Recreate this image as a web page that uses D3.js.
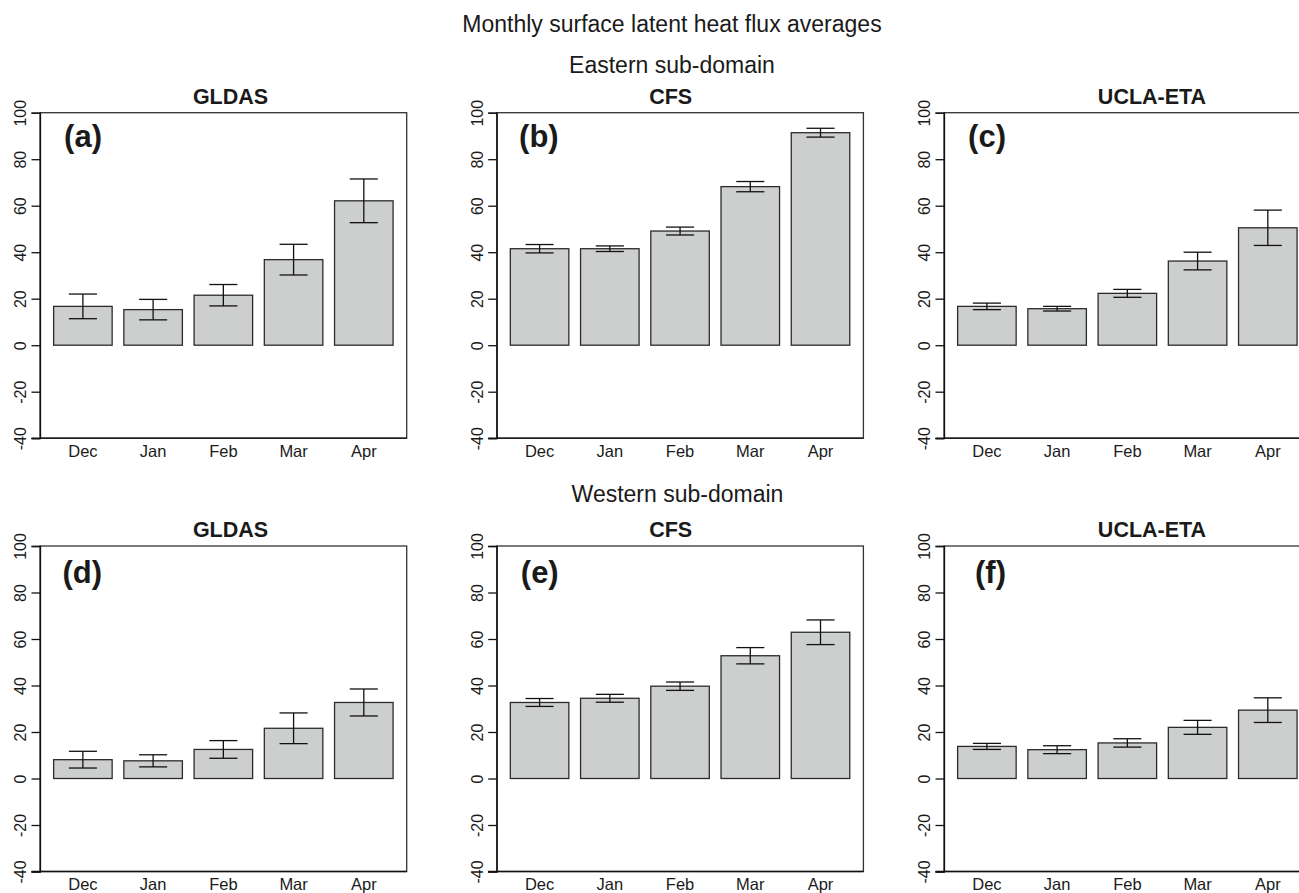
<!DOCTYPE html>
<html lang="en">
<head>
  <meta charset="UTF-8">
  <title>Monthly surface latent heat flux averages</title>
  <script src="https://d3js.org/d3.v7.min.js"></script>
  <style>
    body { margin: 0; background: #fff; }
    text { font-family: "Liberation Sans", Arial, Helvetica, sans-serif; fill: #1a1a1a; }
  </style>
</head>
<body>

<div id="chart"></div>

<script>
  // months on the x axis
  const months = ["Dec", "Jan", "Feb", "Mar", "Apr"];
  const yTicks = [-40, -20, 0, 20, 40, 60, 80, 100];

  // Eastern sub-domain: means and error half-widths
  const eastGldas = [16.7, 15.3, 21.5, 36.8, 62.1];
  const eastGldasErr = [5.3, 4.4, 4.6, 6.6, 9.4];
  const eastCfs = [41.5, 41.5, 49.1, 68.2, 91.4];
  const eastCfsErr = [1.8, 1.2, 1.7, 2.2, 1.9];
  const eastUcla = [16.7, 15.7, 22.3, 36.2, 50.5];
  const eastUclaErr = [1.4, 1.0, 1.7, 3.8, 7.6];

  // Western sub-domain
  const westGldas = [8.1, 7.6, 12.5, 21.6, 32.7];
  const westGldasErr = [3.6, 2.6, 3.8, 6.6, 5.8];
  const westCfs = [32.7, 34.5, 39.7, 52.8, 62.9];
  const westCfsErr = [1.7, 1.7, 1.8, 3.5, 5.3];
  const westUcla = [13.8, 12.4, 15.3, 22.0, 29.4];
  const westUclaErr = [1.3, 1.7, 1.8, 3.0, 5.3];

  const width = 1299;
  const height = 893;
  const plotW = 366.7;
  const plotH = 325.5;

  const panels = [
    { title: "GLDAS",    tag: "(a)", vals: eastGldas, err: eastGldasErr, left: 40,    top: 112.7, titleX: 230.5 },
    { title: "CFS",      tag: "(b)", vals: eastCfs,   err: eastCfsErr,   left: 496.7, top: 112.7, titleX: 670.7 },
    { title: "UCLA-ETA", tag: "(c)", vals: eastUcla,  err: eastUclaErr,  left: 944,   top: 112.7, titleX: 1152 },
    { title: "GLDAS",    tag: "(d)", vals: westGldas, err: westGldasErr, left: 40,    top: 546,   titleX: 230.5, tagDy: 3.4 },
    { title: "CFS",      tag: "(e)", vals: westCfs,   err: westCfsErr,   left: 496.7, top: 546,   titleX: 670.7, tagDy: 3.4 },
    { title: "UCLA-ETA", tag: "(f)", vals: westUcla,  err: westUclaErr,  left: 944,   top: 546,   titleX: 1152,  tagDy: 3.4 }
  ];

  const svg = d3.select("#chart")
    .append("svg")
    .attr("width", width)
    .attr("height", height);

  // headings
  svg.append("text")
    .attr("x", 672).attr("y", 31.5)
    .attr("text-anchor", "middle")
    .attr("font-size", "23px")
    .text("Monthly surface latent heat flux averages");

  svg.append("text")
    .attr("x", 672).attr("y", 72.5)
    .attr("text-anchor", "middle")
    .attr("font-size", "23px")
    .text("Eastern sub-domain");

  svg.append("text")
    .attr("x", 677.5).attr("y", 502.3)
    .attr("text-anchor", "middle")
    .attr("font-size", "23px")
    .text("Western sub-domain");

  const y = d3.scaleLinear().domain([-40, 100]).range([plotH, 0]);

  panels.forEach(p => {
    const g = svg.append("g").attr("transform", `translate(${p.left},${p.top})`);

    const x = d3.scaleBand()
      .domain(months)
      .range([0, plotW])
      .paddingInner(1 / 6)
      .paddingOuter(0.194);

    // box
    g.append("rect")
      .attr("x", 0).attr("y", 0)
      .attr("width", plotW).attr("height", plotH)
      .attr("fill", "none")
      .attr("stroke", "#333")
      .attr("stroke-width", 1.3);

    // bars
    g.selectAll("rect.bar")
      .data(p.vals)
      .enter()
      .append("rect")
      .attr("class", "bar")
      .attr("x", (d, i) => x(months[i]))
      .attr("y", d => y(d))
      .attr("width", x.bandwidth())
      .attr("height", d => y(0) - y(d))
      .attr("fill", "#cdcfce")
      .attr("stroke", "#2b2b2b")
      .attr("stroke-width", 1.3);

    // error bars
    const cap = x.bandwidth() * 0.24;
    const eb = g.selectAll("g.err")
      .data(p.vals)
      .enter()
      .append("g")
      .attr("class", "err")
      .attr("stroke", "#111")
      .attr("stroke-width", 1.3);

    eb.append("line")
      .attr("x1", (d, i) => x(months[i]) + x.bandwidth() / 2)
      .attr("x2", (d, i) => x(months[i]) + x.bandwidth() / 2)
      .attr("y1", (d, i) => y(d + p.err[i]))
      .attr("y2", (d, i) => y(d - p.err[i]));
    eb.append("line")
      .attr("x1", (d, i) => x(months[i]) + x.bandwidth() / 2 - cap)
      .attr("x2", (d, i) => x(months[i]) + x.bandwidth() / 2 + cap)
      .attr("y1", (d, i) => y(d + p.err[i]))
      .attr("y2", (d, i) => y(d + p.err[i]));
    eb.append("line")
      .attr("x1", (d, i) => x(months[i]) + x.bandwidth() / 2 - cap)
      .attr("x2", (d, i) => x(months[i]) + x.bandwidth() / 2 + cap)
      .attr("y1", (d, i) => y(d - p.err[i]))
      .attr("y2", (d, i) => y(d - p.err[i]));

    // y axis, R style with rotated labels
    const yAxis = g.append("g")
      .attr("font-size", 16)
      .call(d3.axisLeft(y).tickValues(yTicks).tickSize(8.5).tickFormat(d => String(d)));
    yAxis.attr("font-size", 16).attr("font-family", null);
    yAxis.select(".domain").attr("stroke", "#111").attr("stroke-width", 1.3);
    yAxis.selectAll(".tick line").attr("stroke", "#111").attr("stroke-width", 1.3);
    yAxis.selectAll(".tick text")
      .attr("x", null).attr("dy", null)
      .attr("transform", "translate(-14,0) rotate(-90)")
      .attr("text-anchor", "middle")
      .attr("fill", "#1a1a1a");

    // x axis, labels only
    const xAxis = g.append("g")
      .attr("transform", `translate(0,${plotH})`)
      .call(d3.axisBottom(x).tickSize(0).tickPadding(7));
    xAxis.attr("font-size", 16.5).attr("font-family", null);
    xAxis.select(".domain").attr("stroke", "#111").attr("stroke-width", 1.3)
      .attr("d", `M-8.5,0H${plotW}`);
    xAxis.selectAll(".tick text")
      .attr("fill", "#1a1a1a");

    // panel title
    svg.append("text")
      .attr("x", p.titleX).attr("y", p.top - 8.4 + (p.tagDy ? -0.9 : 0))
      .attr("text-anchor", "middle")
      .attr("font-size", "21.5px")
      .attr("font-weight", "bold")
      .text(p.title);

    // panel tag
    g.append("text")
      .attr("x", 62).attr("y", 34 + (p.tagDy || 0))
      .attr("text-anchor", "end")
      .attr("font-size", "31px")
      .attr("font-weight", "bold")
      .text(p.tag);
  });
</script>

</body>
</html>
